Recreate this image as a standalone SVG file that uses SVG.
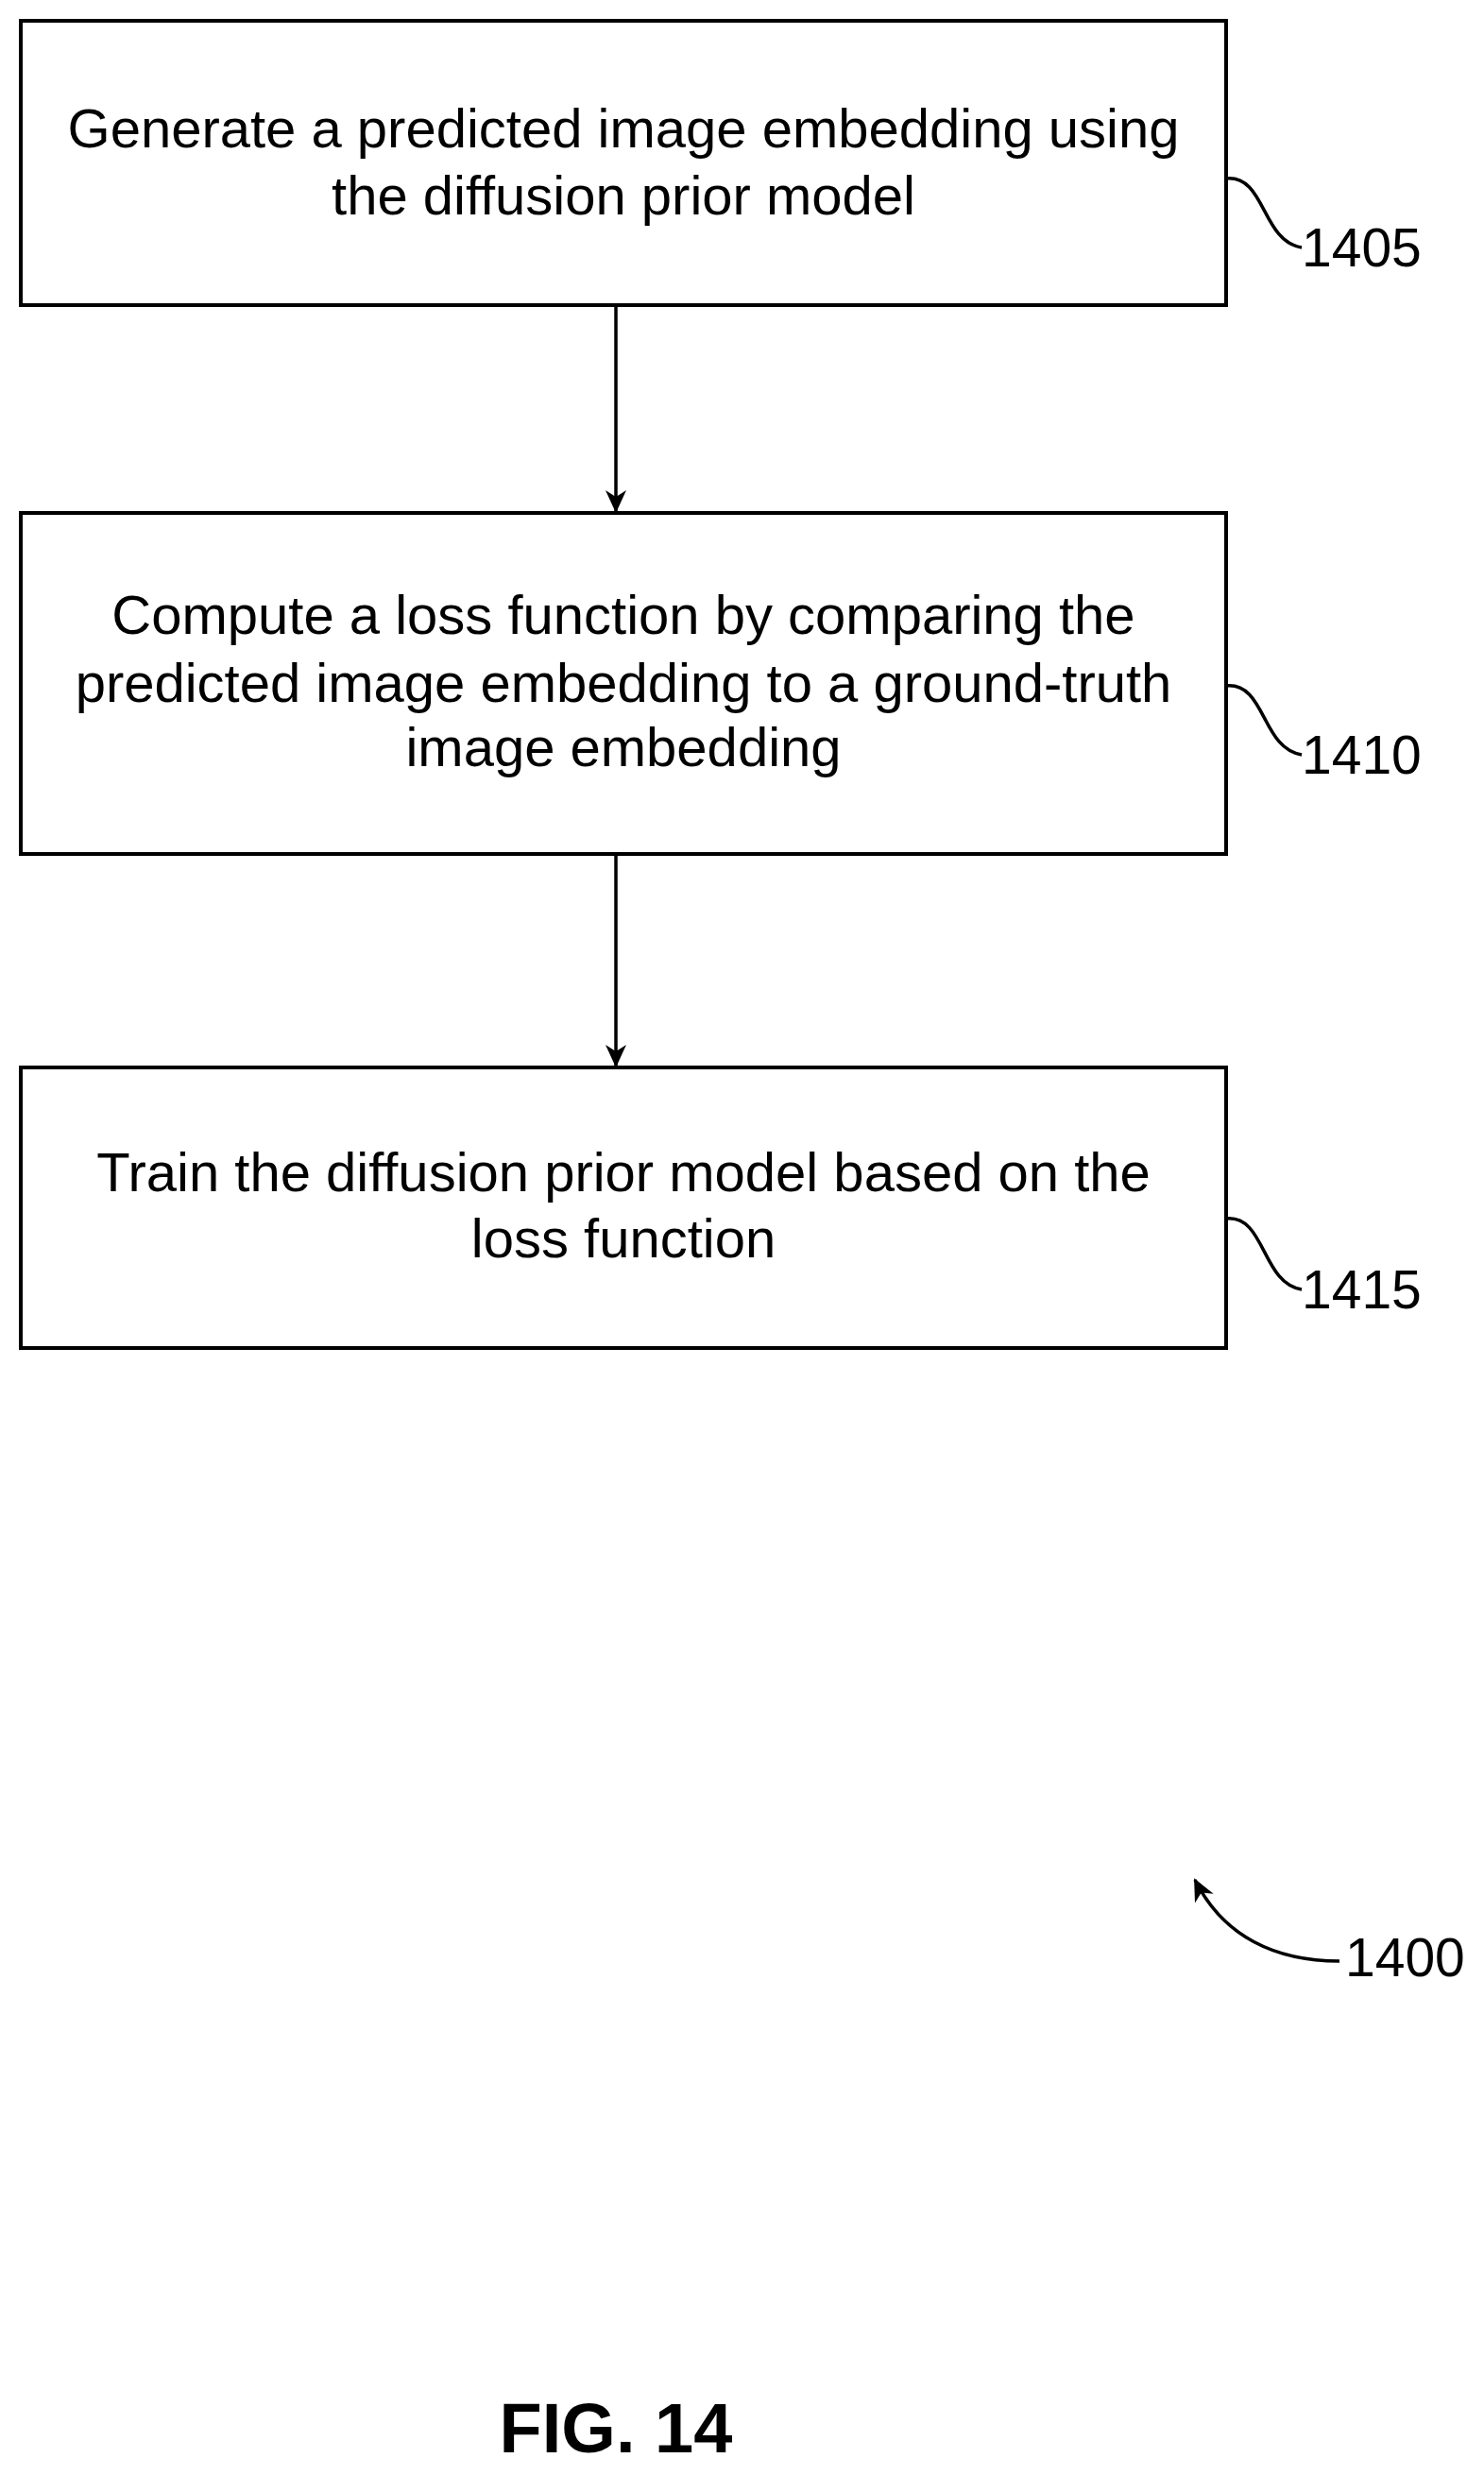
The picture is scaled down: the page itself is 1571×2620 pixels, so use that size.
<svg xmlns="http://www.w3.org/2000/svg" width="1571" height="2620" viewBox="0 0 1571 2620">
<style>
.b{fill:#fff;stroke:#000;stroke-width:4}
.t{font-family:"Liberation Sans",Arial,sans-serif;font-size:58px;text-anchor:middle;fill:#000}
.l{font-family:"Liberation Sans",Arial,sans-serif;font-size:57px;fill:#000}
.c{fill:none;stroke:#000;stroke-width:3.5}
</style>
<defs>
<marker id="h" markerWidth="26" markerHeight="26" refX="22" refY="13" orient="auto" markerUnits="userSpaceOnUse"><path d="M0,2 L24,13 L0,24 L7,13 z" fill="#000"/></marker></defs>
<rect width="1571" height="2620" fill="#fff"/>
<g id="n1405"><rect class="b" x="22" y="22" width="1276" height="301"/>
<text class="t" x="660" y="156">Generate a predicted image embedding using</text>
<text class="t" x="660" y="227">the diffusion prior model</text>
<path class="c" d="M1298,189 C1340,185 1335,255 1378,262"/><text class="l" x="1378" y="282">1405</text></g>
<g id="n1410"><rect class="b" x="22" y="543" width="1276" height="361"/>
<text class="t" x="660" y="671">Compute a loss function by comparing the</text>
<text class="t" x="660" y="743">predicted image embedding to a ground-truth</text>
<text class="t" x="660" y="811">image embedding</text>
<path class="c" d="M1298,726 C1340,722 1335,792 1378,799"/><text class="l" x="1378" y="819">1410</text></g>
<g id="n1415"><rect class="b" x="22" y="1130" width="1276" height="297"/>
<text class="t" x="660" y="1261">Train the diffusion prior model based on the</text>
<text class="t" x="660" y="1331">loss function</text>
<path class="c" d="M1298,1290 C1340,1286 1335,1358 1378,1365"/><text class="l" x="1378" y="1385">1415</text></g>
<g id="n1400"><text class="l" x="1424" y="2092">1400</text></g>
<g id="connectors">
<path class="c" d="M652,323 V541" marker-end="url(#h)"/>
<path class="c" d="M652,904 V1128" marker-end="url(#h)"/>
<path class="c" d="M1418,2076 C1350,2076 1295,2050 1265,1990" marker-end="url(#h)"/>
</g>
<text x="652" y="2596" font-family="Liberation Sans,Arial,sans-serif" font-size="74" font-weight="bold" text-anchor="middle">FIG. 14</text>
</svg>
